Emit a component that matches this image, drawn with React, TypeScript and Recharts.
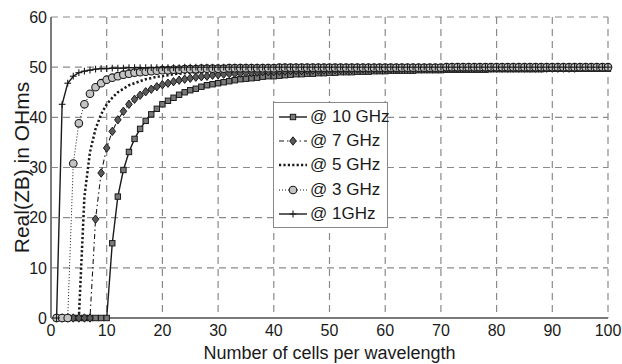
import React from 'react';
import { LineChart, Line, XAxis, YAxis, CartesianGrid, Label } from 'recharts';

// cells per wavelength (x) — one point per integer
const cells = Array.from({ length: 100 }, (_, i) => i + 1);

const ghz10 = [
  0, 0, 0, 0, 0, 0, 0, 0, 0, 0,
  14.9, 24.2, 29.5, 33.1, 35.7, 37.7, 39.3, 40.6, 41.7, 42.6,
  43.3, 43.9, 44.5, 45.0, 45.4, 45.7, 46.1, 46.4, 46.6, 46.8,
  47.0, 47.2, 47.4, 47.6, 47.7, 47.8, 47.9, 48.1, 48.2, 48.2,
  48.3, 48.4, 48.5, 48.6, 48.6, 48.7, 48.7, 48.8, 48.8, 48.9,
  48.9, 49.0, 49.0, 49.0, 49.1, 49.1, 49.1, 49.2, 49.2, 49.2,
  49.3, 49.3, 49.3, 49.3, 49.3, 49.4, 49.4, 49.4, 49.4, 49.4,
  49.5, 49.5, 49.5, 49.5, 49.5, 49.5, 49.5, 49.5, 49.6, 49.6,
  49.6, 49.6, 49.6, 49.6, 49.6, 49.6, 49.6, 49.6, 49.7, 49.7,
  49.7, 49.7, 49.7, 49.7, 49.7, 49.7, 49.7, 49.7, 49.7, 49.7,
];

const ghz7 = [
  0, 0, 0, 0, 0, 0, 0, 19.7, 28.9, 33.9,
  37.2, 39.5, 41.2, 42.6, 43.6, 44.4, 45.1, 45.6, 46.1, 46.5,
  46.8, 47.1, 47.4, 47.6, 47.8, 48.0, 48.1, 48.2, 48.4, 48.5,
  48.6, 48.7, 48.7, 48.8, 48.9, 48.9, 49.0, 49.1, 49.1, 49.1,
  49.2, 49.2, 49.3, 49.3, 49.3, 49.4, 49.4, 49.4, 49.4, 49.5,
  49.5, 49.5, 49.5, 49.5, 49.6, 49.6, 49.6, 49.6, 49.6, 49.6,
  49.6, 49.6, 49.7, 49.7, 49.7, 49.7, 49.7, 49.7, 49.7, 49.7,
  49.7, 49.7, 49.7, 49.8, 49.8, 49.8, 49.8, 49.8, 49.8, 49.8,
  49.8, 49.8, 49.8, 49.8, 49.8, 49.8, 49.8, 49.8, 49.8, 49.8,
  49.8, 49.8, 49.8, 49.8, 49.9, 49.9, 49.9, 49.9, 49.9, 49.9,
];

const ghz5 = [
  0, 0, 0, 0, 0, 24.2, 33.1, 37.7, 40.6, 42.6,
  43.9, 45.0, 45.7, 46.4, 46.8, 47.2, 47.6, 47.8, 48.1, 48.2,
  48.4, 48.6, 48.7, 48.8, 48.9, 49.0, 49.0, 49.1, 49.2, 49.2,
  49.3, 49.3, 49.4, 49.4, 49.4, 49.5, 49.5, 49.5, 49.5, 49.6,
  49.6, 49.6, 49.6, 49.6, 49.7, 49.7, 49.7, 49.7, 49.7, 49.7,
  49.7, 49.7, 49.8, 49.8, 49.8, 49.8, 49.8, 49.8, 49.8, 49.8,
  49.8, 49.8, 49.8, 49.8, 49.8, 49.8, 49.8, 49.9, 49.9, 49.9,
  49.9, 49.9, 49.9, 49.9, 49.9, 49.9, 49.9, 49.9, 49.9, 49.9,
  49.9, 49.9, 49.9, 49.9, 49.9, 49.9, 49.9, 49.9, 49.9, 49.9,
  49.9, 49.9, 49.9, 49.9, 49.9, 49.9, 49.9, 49.9, 49.9, 49.9,
];

const ghz3 = [
  0, 0, 0, 30.8, 38.8, 42.6, 44.7, 46.0, 46.8, 47.5,
  47.9, 48.2, 48.5, 48.7, 48.9, 49.0, 49.1, 49.2, 49.3, 49.4,
  49.4, 49.5, 49.5, 49.6, 49.6, 49.6, 49.7, 49.7, 49.7, 49.7,
  49.7, 49.8, 49.8, 49.8, 49.8, 49.8, 49.8, 49.8, 49.8, 49.8,
  49.9, 49.9, 49.9, 49.9, 49.9, 49.9, 49.9, 49.9, 49.9, 49.9,
  49.9, 49.9, 49.9, 49.9, 49.9, 49.9, 49.9, 49.9, 49.9, 49.9,
  49.9, 49.9, 49.9, 49.9, 49.9, 49.9, 49.9, 49.9, 49.9, 49.9,
  50, 50, 50, 50, 50, 50, 50, 50, 50, 50,
  50, 50, 50, 50, 50, 50, 50, 50, 50, 50,
  50, 50, 50, 50, 50, 50, 50, 50, 50, 50,
];

const ghz1 = [
  0, 42.6, 46.8, 48.2, 48.9, 49.2, 49.4, 49.6, 49.7, 49.7,
  49.8, 49.8, 49.8, 49.9, 49.9, 49.9, 49.9, 49.9, 49.9, 49.9,
  49.9, 49.9, 49.9, 50, 50, 50, 50, 50, 50, 50,
  50, 50, 50, 50, 50, 50, 50, 50, 50, 50,
  50, 50, 50, 50, 50, 50, 50, 50, 50, 50,
  50, 50, 50, 50, 50, 50, 50, 50, 50, 50,
  50, 50, 50, 50, 50, 50, 50, 50, 50, 50,
  50, 50, 50, 50, 50, 50, 50, 50, 50, 50,
  50, 50, 50, 50, 50, 50, 50, 50, 50, 50,
  50, 50, 50, 50, 50, 50, 50, 50, 50, 50,
];

const xTicks = [0, 10, 20, 30, 40, 50, 60, 70, 80, 90, 100];
const yTicks = [0, 10, 20, 30, 40, 50, 60];

const data = cells.map((n, i) => ({
  n,
  g10: ghz10[i],
  g7: ghz7[i],
  g5: ghz5[i],
  g3: ghz3[i],
  g1: ghz1[i],
}));

const FONT = '"Liberation Sans", Arial, sans-serif';
const INK = '#1a1a1a';

type Marker = 'square' | 'diamond' | 'circle' | 'plus' | 'none';

const drawMarker = (kind: Marker, cx: number, cy: number, key?: string | number) => {
  if (kind === 'square')
    return <rect key={key} x={cx - 2.7} y={cy - 2.7} width={5.4} height={5.4} fill="#7a7a7a" stroke={INK} strokeWidth={1} />;
  if (kind === 'diamond')
    return (
      <polygon key={key} points={`${cx},${cy - 4.2} ${cx + 3.3},${cy} ${cx},${cy + 4.2} ${cx - 3.3},${cy}`}
        fill="#5a5a5a" stroke={INK} strokeWidth={1} />
    );
  if (kind === 'circle')
    return <circle key={key} cx={cx} cy={cy} r={3.8} fill="#c4c4c4" stroke={INK} strokeWidth={1.1} />;
  if (kind === 'plus')
    return (
      <g key={key} stroke={INK} strokeWidth={1.1}>
        <line x1={cx - 3.4} y1={cy} x2={cx + 3.4} y2={cy} />
        <line x1={cx} y1={cy - 3.4} x2={cx} y2={cy + 3.4} />
      </g>
    );
  return <g key={key} />;
};

const dotFor = (kind: Marker) => (p: any) => drawMarker(kind, p.cx, p.cy, p.key ?? p.index);

const seriesDefs = [
  { key: 'g10', name: '@ 10 GHz', dash: undefined as string | undefined, width: 1.4, marker: 'square' as Marker },
  { key: 'g7', name: '@ 7 GHz', dash: '5 3 1.5 3', width: 1.1, marker: 'diamond' as Marker },
  { key: 'g5', name: '@ 5 GHz', dash: '2.2 2.2', width: 2.5, marker: 'none' as Marker },
  { key: 'g3', name: '@ 3 GHz', dash: '1 2', width: 1, marker: 'circle' as Marker },
  { key: 'g1', name: '@ 1GHz', dash: undefined as string | undefined, width: 1.4, marker: 'plus' as Marker },
];

const LegendBox = () => (
  <div
    style={{
      position: 'absolute', left: 273, top: 102, width: 115, height: 126,
      border: '1px solid #888', background: '#fff', boxSizing: 'border-box', paddingTop: 2,
    }}
  >
    {seriesDefs.map((s) => (
      <div key={s.key} style={{ display: 'flex', alignItems: 'center', height: 24.2 }}>
        <svg width={32} height={14} style={{ marginLeft: 3, flex: 'none' }}>
          <line x1={2} y1={7} x2={30} y2={7} stroke={INK} strokeWidth={s.width} strokeDasharray={s.dash} />
          {drawMarker(s.marker, 16, 7)}
        </svg>
        <span style={{ fontFamily: FONT, fontSize: 17, color: INK, marginLeft: 1, whiteSpace: 'nowrap' }}>{s.name}</span>
      </div>
    ))}
  </div>
);

export default function App() {
  return (
    <div style={{ position: 'absolute', left: 0, top: 0, width: 622, height: 364, background: '#fff' }}>
      <LineChart width={622} height={364} data={data} margin={{ top: 17, right: 14, bottom: 0, left: 0 }}>
        <CartesianGrid stroke="#8a8a8a" strokeDasharray="7 5" strokeWidth={1.2} />
        <XAxis
          dataKey="n"
          type="number"
          domain={[0, 100]}
          ticks={xTicks}
          height={46}
          tickLine={false}
          tickSize={4}
          tickMargin={3}
          axisLine={{ stroke: '#7a7a7a', strokeWidth: 2 }}
          tick={{ fontFamily: FONT, fontSize: 16, fill: INK }}
        >
          <Label value="Number of cells per wavelength" position="insideBottom" offset={5}
            style={{ fontFamily: FONT, fontSize: 18, fill: INK }} />
        </XAxis>
        <YAxis
          type="number"
          domain={[0, 60]}
          ticks={yTicks}
          width={51}
          tickLine={false}
          tickSize={2}
          tickMargin={2}
          axisLine={{ stroke: '#7a7a7a', strokeWidth: 2 }}
          tick={{ fontFamily: FONT, fontSize: 16, fill: INK }}
        >
          <Label value="Real(ZB) in OHms" angle={-90} position="insideLeft" dx={17}
            style={{ fontFamily: FONT, fontSize: 21, fill: INK, textAnchor: 'middle' }} />
        </YAxis>
        {seriesDefs.map((s) => (
          <Line
            key={s.key}
            dataKey={s.key}
            name={s.name}
            type="linear"
            stroke={INK}
            strokeWidth={s.width}
            strokeDasharray={s.dash}
            dot={s.marker === 'none' ? false : dotFor(s.marker)}
            activeDot={false}
            isAnimationActive={false}
          />
        ))}
      </LineChart>
      <LegendBox />
    </div>
  );
}
